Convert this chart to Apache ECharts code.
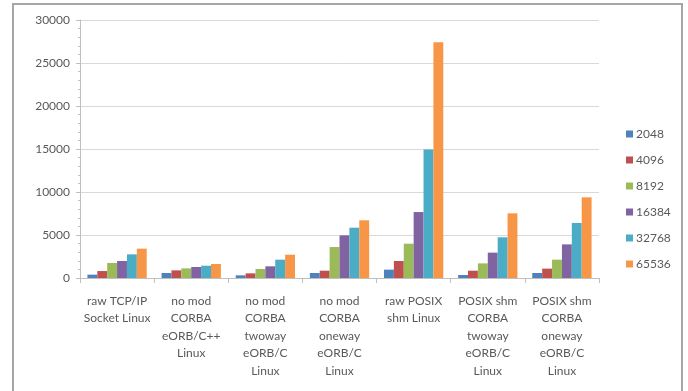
<!DOCTYPE html>
<html>
<head>
<meta charset="utf-8">
<script src="https://cdn.jsdelivr.net/npm/echarts@6/dist/echarts.min.js"></script>
<style>
html,body{margin:0;padding:0;background:#fff;}
#c{width:688px;height:391px;}
</style>
</head>
<body>
<div id="c"></div>
<script>
const categories = [
  'raw TCP/IP\nSocket Linux',
  'no mod\nCORBA\neORB/C++\nLinux',
  'no mod\nCORBA\ntwoway\neORB/C\nLinux',
  'no mod\nCORBA\noneway\neORB/C\nLinux',
  'raw POSIX\nshm Linux',
  'POSIX shm\nCORBA\ntwoway\neORB/C\nLinux',
  'POSIX shm\nCORBA\noneway\neORB/C\nLinux'
];
const seriesNames = ['2048', '4096', '8192', '16384', '32768', '65536'];
const s2048  = [390, 580, 310, 580, 970, 350, 580];
const s4096  = [810, 890, 540, 850, 1980, 850, 1090];
const s8192  = [1750, 1120, 1050, 3600, 3990, 1700, 2130];
const s16384 = [1980, 1280, 1360, 4960, 7670, 2950, 3910];
const s32768 = [2750, 1430, 2130, 5850, 14950, 4730, 6400];
const s65536 = [3410, 1630, 2710, 6710, 27400, 7520, 9380];
const yTicks = [0, 5000, 10000, 15000, 20000, 25000, 30000];

const colors = ['#4F81BD', '#C0504D', '#9BBB59', '#8064A2', '#4BACC6', '#F79646'];
const allData = [s2048, s4096, s8192, s16384, s32768, s65536];
const font = 'Lato, "Open Sans", sans-serif';

const chart = echarts.init(document.getElementById('c'), null, {renderer: 'canvas'});
chart.setOption({
  animation: false,
  color: colors,
  graphic: [{
    type: 'rect',
    shape: {x: 13, y: 4, width: 669, height: 400},
    style: {fill: 'none', stroke: '#a6a6a6', lineWidth: 2},
    silent: true
  }],
  grid: {left: 80, right: 89, top: 20, bottom: 113, containLabel: false},
  legend: {
    orient: 'vertical',
    left: 621,
    top: 122,
    itemWidth: 7,
    itemHeight: 7,
    itemGap: 12,
    icon: 'rect',
    textStyle: {fontFamily: font, fontSize: 12, color: '#595959', lineHeight: 14, padding: [0, 0, 0, -2]},
    data: seriesNames
  },
  xAxis: {
    type: 'category',
    data: categories,
    axisLine: {lineStyle: {color: '#bfbfbf', width: 1}},
    axisTick: {show: true, length: 5, lineStyle: {color: '#bfbfbf'}},
    axisLabel: {fontFamily: font, fontSize: 12, color: '#595959', lineHeight: 17.5, margin: 14, interval: 0}
  },
  yAxis: {
    type: 'value',
    min: 0,
    max: 30000,
    interval: 5000,
    axisLine: {show: true, lineStyle: {color: '#bfbfbf'}},
    axisTick: {show: true, length: 4, lineStyle: {color: '#bfbfbf'}},
    minorTick: {show: true, splitNumber: 5, length: 2, lineStyle: {color: '#bfbfbf'}},
    splitLine: {show: true, lineStyle: {color: '#d9d9d9', width: 1}},
    axisLabel: {fontFamily: font, fontSize: 12, color: '#595959', margin: 10,
      formatter: v => yTicks.includes(v) ? String(v) : ''}
  },
  series: seriesNames.map((n, i) => ({
    name: n,
    type: 'bar',
    data: allData[i],
    barGap: '0%',
    barCategoryGap: '20%',
    itemStyle: {color: colors[i]}
  }))
});
</script>
</body>
</html>
